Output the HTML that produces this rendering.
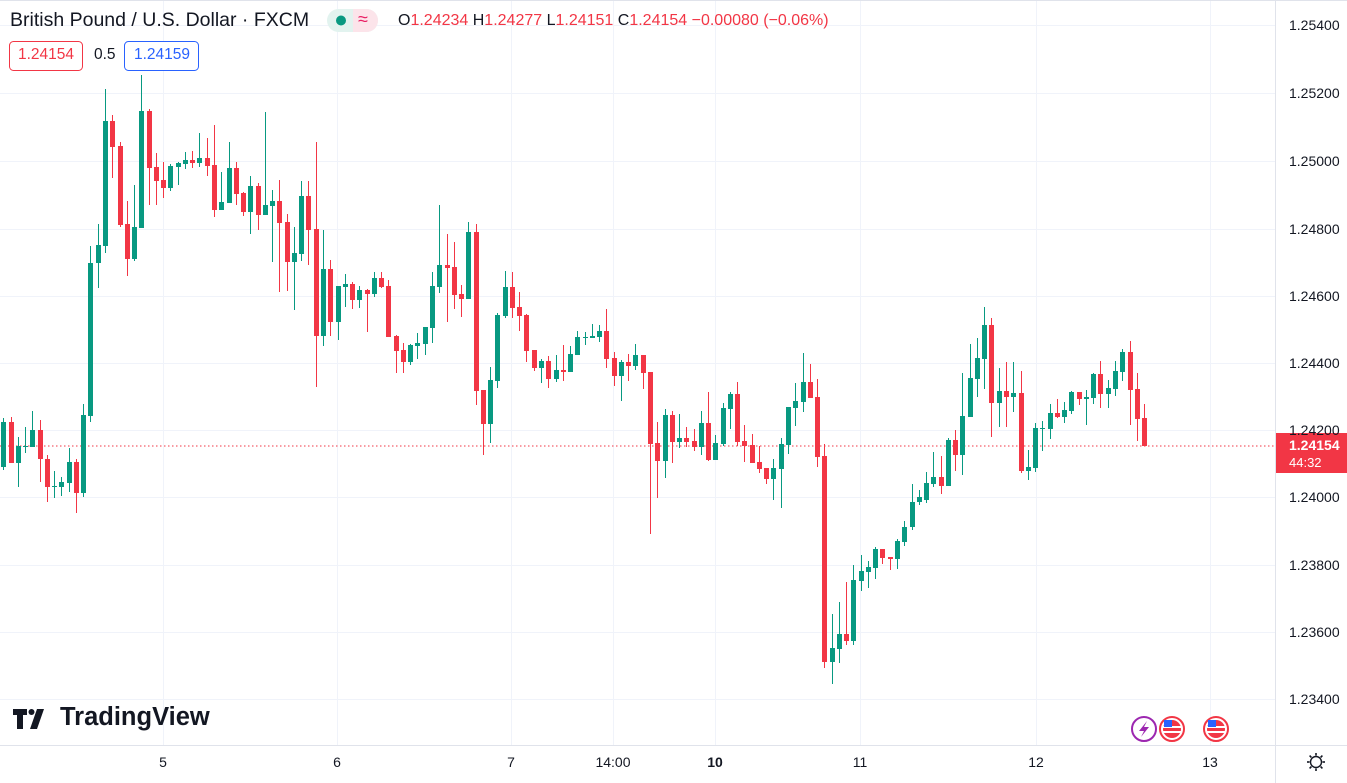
<!DOCTYPE html>
<html><head><meta charset="utf-8"><style>
html,body{margin:0;padding:0;background:#fff;width:1347px;height:783px;overflow:hidden;font-family:"Liberation Sans",sans-serif;}
svg{position:absolute;left:0;top:0}
.t{position:absolute;white-space:nowrap;color:#131722}
</style></head><body>
<svg id="s" width="1347" height="783" xmlns="http://www.w3.org/2000/svg">
<g stroke="#f0f3fa" stroke-width="1">
<line x1="0" y1="25.5" x2="1275" y2="25.5"/><line x1="0" y1="93.5" x2="1275" y2="93.5"/><line x1="0" y1="161.5" x2="1275" y2="161.5"/><line x1="0" y1="229.5" x2="1275" y2="229.5"/><line x1="0" y1="296.5" x2="1275" y2="296.5"/><line x1="0" y1="363.5" x2="1275" y2="363.5"/><line x1="0" y1="430.5" x2="1275" y2="430.5"/><line x1="0" y1="497.5" x2="1275" y2="497.5"/><line x1="0" y1="565.5" x2="1275" y2="565.5"/><line x1="0" y1="632.5" x2="1275" y2="632.5"/><line x1="0" y1="699.5" x2="1275" y2="699.5"/>
<line x1="163.5" y1="0" x2="163.5" y2="745"/><line x1="337.5" y1="0" x2="337.5" y2="745"/><line x1="511.5" y1="0" x2="511.5" y2="745"/><line x1="613.5" y1="0" x2="613.5" y2="745"/><line x1="715.5" y1="0" x2="715.5" y2="745"/><line x1="860.5" y1="0" x2="860.5" y2="745"/><line x1="1036.5" y1="0" x2="1036.5" y2="745"/><line x1="1210.5" y1="0" x2="1210.5" y2="745"/>
</g>
<line x1="0" y1="745.5" x2="1347" y2="745.5" stroke="#e0e3eb"/>
<line x1="1275.5" y1="0" x2="1275.5" y2="783" stroke="#e0e3eb"/>
<line x1="0" y1="0.5" x2="1347" y2="0.5" stroke="#e0e3eb"/>
<line x1="0" y1="446" x2="1276" y2="446" stroke="#f23645" stroke-dasharray="1.5,2.5"/>
<g id="c"></g>
<rect x="1276" y="433" width="71" height="40" fill="#f23645"/>
<text x="1289" y="450" font-size="14" font-weight="bold" fill="#fff" font-family="Liberation Sans">1.24154</text>
<text x="1289" y="467" font-size="13" fill="#fff" font-family="Liberation Sans">44:32</text>
<g font-size="14" fill="#131722" font-family="Liberation Sans">
<text x="1289" y="30">1.25400</text><text x="1289" y="98">1.25200</text><text x="1289" y="166">1.25000</text><text x="1289" y="234">1.24800</text><text x="1289" y="301">1.24600</text><text x="1289" y="368">1.24400</text><text x="1289" y="435">1.24200</text><text x="1289" y="502">1.24000</text><text x="1289" y="570">1.23800</text><text x="1289" y="637">1.23600</text><text x="1289" y="704">1.23400</text>
<text x="163" y="767" text-anchor="middle">5</text><text x="337" y="767" text-anchor="middle">6</text><text x="511" y="767" text-anchor="middle">7</text><text x="613" y="767" text-anchor="middle">14:00</text><text x="715" y="767" text-anchor="middle" font-weight="bold">10</text><text x="860" y="767" text-anchor="middle">11</text><text x="1036" y="767" text-anchor="middle">12</text><text x="1210" y="767" text-anchor="middle">13</text>
</g>
<g transform="translate(1316,762)" stroke="#131722" stroke-width="1.4" fill="none"><circle r="5.5"/><g stroke-width="1.6"><line x1="0" y1="-9" x2="0" y2="-6.5"/><line x1="0" y1="9" x2="0" y2="6.5"/><line x1="-9" y1="0" x2="-6.5" y2="0"/><line x1="9" y1="0" x2="6.5" y2="0"/><line x1="-6.4" y1="-6.4" x2="-4.6" y2="-4.6"/><line x1="6.4" y1="6.4" x2="4.6" y2="4.6"/><line x1="-6.4" y1="6.4" x2="-4.6" y2="4.6"/><line x1="6.4" y1="-6.4" x2="4.6" y2="-4.6"/></g></g>
<circle cx="1144" cy="729" r="12" fill="#fff" stroke="#9c27b0" stroke-width="2"/>
<path d="M1147 721 L1139 731 L1144 731 L1141 737 L1149 727 L1144 727 Z" fill="#9c27b0"/>
<g><circle cx="1172" cy="729" r="12" fill="#fff" stroke="#f23645" stroke-width="2"/><circle cx="1172" cy="729" r="9" fill="#f23645"/><rect x="1163" y="726" width="18" height="2" fill="#fff"/><rect x="1163" y="731" width="18" height="2" fill="#fff"/><rect x="1164" y="720" width="8" height="7" fill="#2962ff"/></g>
<g><circle cx="1216" cy="729" r="12" fill="#fff" stroke="#f23645" stroke-width="2"/><circle cx="1216" cy="729" r="9" fill="#f23645"/><rect x="1207" y="726" width="18" height="2" fill="#fff"/><rect x="1207" y="731" width="18" height="2" fill="#fff"/><rect x="1208" y="720" width="8" height="7" fill="#2962ff"/></g>
<rect x="327" y="9" width="51" height="23" rx="11.5" fill="#e2f3ef"/>
<path d="M353 9 H366.5 A11.5 11.5 0 0 1 366.5 32 H353 Z" fill="#fce4ea"/>
<circle cx="341" cy="20.5" r="5" fill="#089981"/>
<rect x="9.5" y="41.5" width="73" height="29" rx="4" fill="#fff" stroke="#f23645"/>
<rect x="124.5" y="41.5" width="74" height="29" rx="4" fill="#fff" stroke="#2962ff"/>
<g fill="#131722"><path d="M13 709 H27 V715 H23 V729 H17 V715 H13 Z"/><path d="M30 729 L37 709 H44 L37 729 Z"/><circle cx="31.5" cy="712" r="3"/></g>
</svg>
<div class="t" style="left:10px;top:9px;font-size:19.5px">British Pound / U.S. Dollar · FXCM</div>
<div class="t" style="left:358px;top:9px;font-size:18px;color:#e91e63">≈</div>
<div class="t" style="left:398px;top:12px;font-size:16px;color:#f23645"><span style="color:#131722">O</span>1.24234 <span style="color:#131722">H</span>1.24277 <span style="color:#131722">L</span>1.24151 <span style="color:#131722">C</span>1.24154 −0.00080 (−0.06%)</div>
<div class="t" style="left:18px;top:46px;font-size:15.5px;color:#f23645">1.24154</div>
<div class="t" style="left:94px;top:46px;font-size:15.5px">0.5</div>
<div class="t" style="left:134px;top:46px;font-size:15.5px;color:#2962ff">1.24159</div>
<div class="t" style="left:60px;top:703px;font-size:25.5px;font-weight:bold">TradingView</div>
<script>
var d="g,422,467,418,470;r,422,463,417,463;g,446,463,437,487;g,446,447,427,453;g,430,447,411,447;r,430,459,420,482;r,459,487,455,502;g,486,487,471,498;g,482,487,477,496;g,462,483,448,492;r,462,493,459,513;g,415,493,404,497;g,263,416,246,422;g,245,263,224,288;g,121,246,89,253;r,121,147,115,178;r,146,225,142,227;r,224,259,201,276;g,227,259,185,261;g,111,228,75,228;r,111,168,109,205;r,167,181,153,205;r,180,188,162,198;g,166,188,164,191;g,163,167,162,185;g,160,164,152,169;r,160,163,151,168;g,158,163,133,167;r,158,166,138,176;r,165,210,125,217;g,202,210,172,210;g,168,203,142,203;r,168,194,162,205;r,193,212,192,216;g,186,212,176,234;r,186,215,183,230;g,205,215,112,215;g,201,206,190,262;r,201,223,180,292;r,222,262,214,291;g,253,262,227,310;g,196,254,181,261;r,196,230,181,265;r,229,336,142,387;g,269,336,230,346;r,269,322,260,336;g,286,322,286,340;g,284,287,274,307;r,284,300,282,309;g,290,300,286,308;r,290,294,289,332;g,278,294,272,297;r,278,287,272,288;r,286,337,280,337;r,336,351,335,373;r,350,362,343,373;g,345,362,344,365;g,343,346,333,359;g,327,344,327,355;g,286,328,272,343;g,265,287,205,293;r,265,268,234,322;r,267,295,242,309;r,294,299,285,317;g,232,299,222,299;r,232,391,224,405;r,390,424,390,455;g,380,424,367,443;g,315,381,313,388;g,287,316,271,318;r,287,308,272,318;r,307,316,292,331;r,315,351,314,362;r,350,368,350,371;g,361,368,359,383;r,361,379,356,388;g,370,379,355,382;r,370,372,345,381;g,354,372,346,372;g,337,355,331,355;g,337,338,332,345;g,336,338,324,338;g,331,337,325,342;r,331,359,309,368;r,358,376,352,386;g,362,376,360,401;r,362,366,354,381;g,355,366,344,370;r,355,373,355,389;r,372,444,372,534;r,443,461,422,498;g,415,461,409,478;r,415,442,411,463;g,438,442,414,448;r,438,442,427,447;r,441,447,429,451;g,423,447,411,455;r,423,460,392,461;g,443,460,435,460;g,408,444,403,446;g,394,409,392,429;r,394,442,382,446;r,441,446,425,462;r,445,463,434,463;r,462,469,446,473;r,468,479,468,484;g,468,479,459,500;g,444,469,438,508;g,407,445,407,454;g,401,408,383,426;g,382,402,353,412;r,382,398,364,398;r,397,457,379,467;r,456,662,444,668;g,648,662,614,684;g,634,649,602,663;r,634,641,582,645;g,580,641,565,645;g,571,581,555,591;g,567,572,561,588;g,549,568,547,579;r,549,558,549,564;r,557,559,557,570;g,541,559,539,569;g,527,542,521,546;g,502,527,484,530;g,497,502,490,505;g,483,500,472,503;g,477,484,452,487;r,477,486,456,494;g,440,486,438,486;r,440,455,430,471;g,416,455,373,475;g,378,417,344,417;g,358,379,338,397;g,325,359,307,389;r,325,403,318,437;g,391,403,368,427;r,391,397,362,427;g,393,397,362,412;r,393,471,371,473;g,467,471,450,480;g,428,468,423,472;g,428,429,421,451;g,413,429,404,439;r,413,417,399,418;g,410,417,402,423;g,392,411,391,414;r,392,399,392,405;g,397,399,390,425;g,374,398,373,404;r,374,394,361,408;g,388,394,380,408;g,371,389,361,396;g,352,372,349,381;r,352,390,341,425;r,389,419,373,441;r,418,446,404,446".split(";");
var h="";
d.forEach(function(s,i){var a=s.split(",");var c=a[0]=="g"?"#089981":"#f23645";var x=Math.round(3.3+7.266*i);var t=+a[1],b=+a[2],hi=+a[3],lo=+a[4];var bh=Math.max(1,b-t);
h+='<rect x="'+x+'" y="'+hi+'" width="1" height="'+(lo-hi)+'" fill="'+c+'"/>';
h+='<rect x="'+(x-2)+'" y="'+t+'" width="5" height="'+bh+'" fill="'+c+'"/>';});
document.getElementById("c").innerHTML=h;
</script>
</body></html>
